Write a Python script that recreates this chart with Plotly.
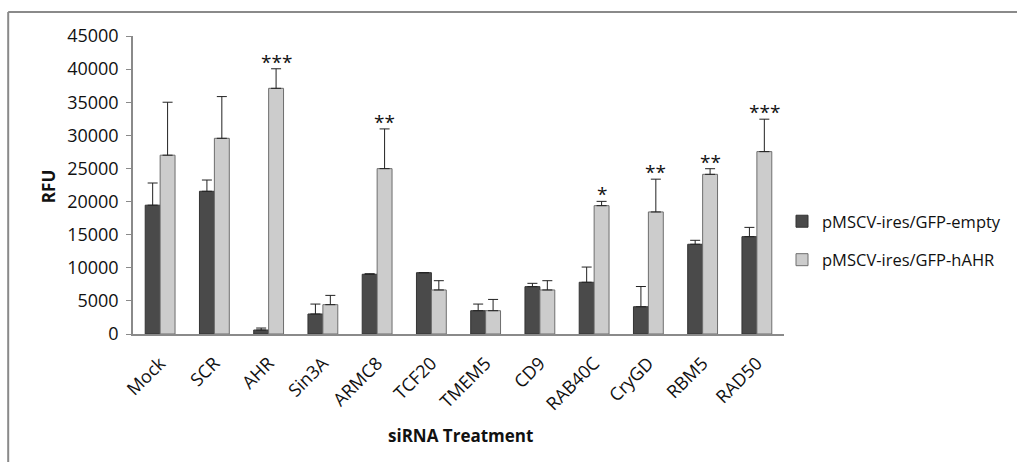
import plotly.graph_objects as go

categories = ["Mock", "SCR", "AHR", "Sin3A", "ARMC8", "TCF20", "TMEM5", "CD9",
              "RAB40C", "CryGD", "RBM5", "RAD50"]
empty_vals = [19450, 21550, 600, 3020, 9020, 9260, 3520, 7150, 7810, 4120, 13550, 14700]
empty_err = [3350, 1700, 300, 1500, 80, 0, 1000, 500, 2300, 3050, 600, 1400]
hahr_vals = [27000, 29550, 37100, 4430, 24970, 6650, 3520, 6650, 19380, 18430, 24110, 27540]
hahr_err = [8000, 6300, 2950, 1400, 6000, 1400, 1700, 1400, 650, 4950, 850, 4900]
stars = ["", "", "***", "", "**", "", "", "", "*", "**", "**", "***"]
y_ticks = [0, 5000, 10000, 15000, 20000, 25000, 30000, 35000, 40000, 45000]

FONT = "Open Sans"
W, H = 1017, 462
L, R, T, B = 133, 785, 36, 334


def px(xp):
    return (xp - L) / (R - L)


def py(yp):
    return (B - yp) / (B - T)


fig = go.Figure()
fig.add_trace(go.Bar(
    x=categories, y=empty_vals, name="pMSCV-ires/GFP-empty", legendgroup="a",
    marker=dict(color="#4a4a4a", line=dict(color="#333333", width=1)),
    error_y=dict(type="data", symmetric=False, array=empty_err,
                 arrayminus=[0] * len(empty_err), color="#222222", thickness=1, width=5),
))
fig.add_trace(go.Bar(
    x=categories, y=hahr_vals, name="pMSCV-ires/GFP-hAHR", legendgroup="b",
    marker=dict(color="#cccccc", line=dict(color="#6e6e6e", width=1)),
    error_y=dict(type="data", symmetric=False, array=hahr_err,
                 arrayminus=[0] * len(hahr_err), color="#222222", thickness=1, width=5),
))

for c, v, e, s in zip(categories, hahr_vals, hahr_err, stars):
    if s:
        fig.add_annotation(x=c, y=v + e, text=s, showarrow=False, xref="x", yref="y",
                           xshift=7.5, yanchor="bottom", yshift=-8,
                           font=dict(family=FONT, size=19, color="#111111"))

fig.add_annotation(x=px(461), y=py(435), xref="paper", yref="paper",
                   xanchor="center", yanchor="middle", text="<b>siRNA Treatment</b>",
                   showarrow=False, font=dict(family=FONT, size=17, color="#111111"))

fig.add_annotation(x=px(48), y=py(187), xref="paper", yref="paper", text="<b>RFU</b>",
                   xanchor="center", yanchor="middle", textangle=-90, showarrow=False,
                   font=dict(family=FONT, size=17, color="#111111"))

# outer frame (left and top)
fig.add_shape(type="line", xref="paper", yref="paper", x0=px(8), x1=px(8), y0=py(12), y1=py(470),
              line=dict(color="#8a8a8a", width=2))
fig.add_shape(type="line", xref="paper", yref="paper", x0=px(8), x1=px(1030), y0=py(12), y1=py(12),
              line=dict(color="#8a8a8a", width=2))

fig.update_layout(
    width=W, height=H,
    margin=dict(l=L, r=W - R, t=T, b=H - B),
    paper_bgcolor="white", plot_bgcolor="white",
    barmode="group", bargap=0.45, bargroupgap=0,
    font=dict(family=FONT, size=16, color="#111111"),
    showlegend=True,
    legend=dict(x=px(782), y=py(204), xanchor="left", yanchor="top",
                traceorder="grouped", tracegroupgap=14,
                font=dict(family=FONT, size=16.5, color="#111111"),
                bgcolor="rgba(0,0,0,0)"),
    xaxis=dict(tickangle=-45, showline=True, linecolor="#8a8a8a", linewidth=1.5,
               ticks="", showgrid=False, ticklabelstandoff=10,
               tickfont=dict(family=FONT, size=18)),
    yaxis=dict(range=[0, 45000], tickvals=y_ticks, ticktext=[str(t) for t in y_ticks],
               showline=True, linecolor="#8a8a8a", linewidth=1.5, ticks="outside",
               ticklen=5, tickcolor="#8a8a8a", showgrid=False, zeroline=False,
               ticklabelstandoff=4, tickfont=dict(family=FONT, size=18)),
)
fig.write_html("out.html")
